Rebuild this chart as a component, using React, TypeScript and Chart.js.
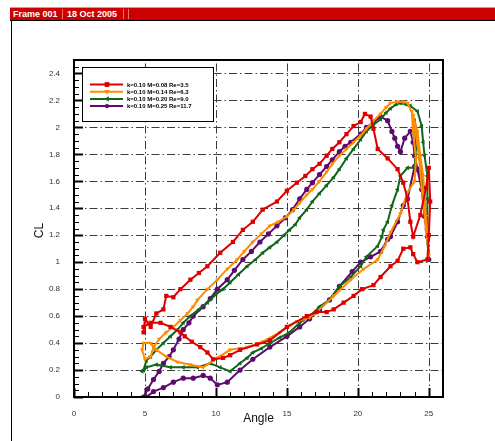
import React, { useEffect, useRef } from "react";
import { Chart, registerables } from "chart.js";

Chart.register(...registerables);

const seriesLabels = [
  "k=0.10 M=0.08 Re=3.5",
  "k=0.10 M=0.14 Re=6.3",
  "k=0.10 M=0.20 Re=9.0",
  "k=0.10 M=0.25 Re=11.7",
];

const xTicks = [0, 5, 10, 15, 20, 25];
const yTicks = [0, 0.2, 0.4, 0.6, 0.8, 1, 1.2, 1.4, 1.6, 1.8, 2, 2.2, 2.4];

const angleRed = [4.9, 5.0, 5.4, 5.8, 6.3, 6.5, 7.0, 7.5, 8.2, 8.8, 9.4, 10.3, 11.2, 11.9, 12.6, 13.3, 14.3, 15.0, 15.7, 16.3, 16.8, 17.3, 17.8, 18.2, 18.7, 19.2, 19.7, 20.2, 20.5, 20.9, 21.1, 21.4, 22.1, 22.8, 23.2, 23.5, 23.7, 23.9, 24.4, 24.8, 25.0, 25.1, 25.0, 24.9, 24.2, 23.9, 23.7, 23.2, 22.8, 22.3, 21.6, 21.1, 20.3, 19.7, 19.0, 18.3, 17.8, 17.1, 16.4, 15.0, 13.8, 12.9, 11.7, 11.0, 10.5, 9.8, 9.4, 8.9, 8.3, 7.8, 7.5, 6.8, 6.1, 5.4, 4.9];
const clRed = [0.48, 0.58, 0.52, 0.62, 0.65, 0.75, 0.74, 0.80, 0.87, 0.92, 0.97, 1.07, 1.15, 1.24, 1.30, 1.39, 1.45, 1.53, 1.59, 1.64, 1.69, 1.73, 1.79, 1.84, 1.89, 1.95, 2.01, 2.04, 2.10, 2.08, 1.99, 1.84, 1.77, 1.69, 1.59, 1.47, 1.30, 1.19, 1.35, 1.55, 1.70, 1.45, 1.20, 1.02, 1.00, 1.06, 1.11, 1.10, 1.01, 0.97, 0.89, 0.83, 0.80, 0.75, 0.70, 0.65, 0.63, 0.63, 0.60, 0.52, 0.42, 0.39, 0.35, 0.31, 0.29, 0.28, 0.33, 0.37, 0.41, 0.45, 0.48, 0.52, 0.55, 0.55, 0.52];

const angleOrange = [5.6, 6.0, 6.5, 7.0, 7.5, 8.0, 8.4, 8.7, 9.4, 10.1, 10.8, 11.5, 12.0, 12.6, 13.2, 13.8, 14.4, 15.0, 15.5, 15.9, 16.4, 16.8, 17.3, 17.8, 18.2, 18.7, 19.2, 19.7, 20.2, 20.6, 21.1, 21.6, 22.0, 22.3, 22.8, 23.2, 23.5, 23.9, 24.2, 24.4, 24.6, 24.7, 24.8, 24.9, 25.0, 24.8, 24.5, 24.3, 24.0, 23.8, 23.9, 24.1, 24.0, 23.5, 23.0, 22.3, 21.9, 21.4, 20.4, 19.5, 18.3, 17.1, 16.6, 15.7, 14.5, 13.3, 12.2, 11.0, 10.1, 9.1, 8.2, 7.3, 6.5, 5.8, 5.4, 4.9, 4.8, 5.0, 5.4, 5.6];
const clOrange = [0.37, 0.43, 0.48, 0.52, 0.57, 0.62, 0.67, 0.72, 0.80, 0.87, 0.95, 1.02, 1.08, 1.15, 1.21, 1.27, 1.30, 1.34, 1.39, 1.44, 1.50, 1.54, 1.60, 1.67, 1.73, 1.79, 1.84, 1.89, 1.94, 1.99, 2.05, 2.10, 2.15, 2.18, 2.19, 2.19, 2.18, 2.09, 1.97, 1.79, 1.64, 1.49, 1.34, 1.19, 1.05, 1.25, 1.55, 1.80, 2.00, 2.12, 1.95, 1.77, 1.60, 1.52, 1.36, 1.22, 1.12, 1.02, 0.95, 0.87, 0.75, 0.63, 0.59, 0.56, 0.48, 0.41, 0.37, 0.35, 0.29, 0.22, 0.24, 0.26, 0.30, 0.35, 0.40, 0.40, 0.35, 0.28, 0.30, 0.37];

const angleGreen = [4.9, 5.1, 5.4, 5.8, 6.3, 6.8, 7.3, 7.7, 8.2, 8.8, 9.4, 10.0, 10.5, 11.0, 11.6, 12.2, 12.8, 13.3, 13.8, 14.3, 14.8, 15.2, 15.6, 15.9, 16.4, 16.8, 17.3, 17.8, 18.3, 18.7, 19.2, 19.7, 20.2, 20.6, 21.1, 21.6, 22.0, 22.3, 22.7, 23.0, 23.4, 23.7, 24.2, 24.5, 24.6, 24.7, 24.9, 24.9, 24.9, 25.0, 24.8, 24.5, 24.2, 24.0, 24.1, 24.0, 23.5, 23.0, 22.8, 22.4, 22.1, 21.8, 21.7, 21.4, 20.6, 20.2, 19.5, 18.7, 18.0, 17.3, 16.6, 15.9, 15.2, 14.5, 13.8, 13.2, 12.6, 12.2, 11.7, 11.0, 10.3, 9.6, 8.7, 7.7, 6.8, 5.8, 5.1, 4.8, 4.9];
const clGreen = [0.20, 0.27, 0.30, 0.35, 0.40, 0.45, 0.50, 0.55, 0.60, 0.65, 0.70, 0.76, 0.80, 0.85, 0.91, 0.97, 1.02, 1.07, 1.11, 1.15, 1.20, 1.24, 1.28, 1.33, 1.39, 1.45, 1.51, 1.57, 1.63, 1.69, 1.77, 1.84, 1.91, 1.97, 2.02, 2.06, 2.11, 2.14, 2.17, 2.18, 2.17, 2.16, 2.12, 2.01, 1.89, 1.79, 1.64, 1.47, 1.24, 1.02, 1.30, 1.60, 1.92, 2.05, 1.85, 1.70, 1.70, 1.64, 1.54, 1.42, 1.30, 1.24, 1.19, 1.12, 1.04, 0.97, 0.89, 0.82, 0.72, 0.67, 0.60, 0.55, 0.48, 0.44, 0.40, 0.36, 0.33, 0.29, 0.25, 0.19, 0.22, 0.25, 0.22, 0.22, 0.22, 0.24, 0.22, 0.19, 0.20];

const anglePurple = [4.9, 5.2, 5.6, 6.0, 6.3, 6.7, 7.0, 7.4, 7.7, 8.1, 8.4, 9.1, 9.6, 10.1, 10.8, 11.3, 11.9, 12.5, 13.1, 13.7, 14.3, 14.9, 15.4, 15.9, 16.4, 16.8, 17.3, 17.8, 18.2, 18.7, 19.1, 19.5, 20.2, 20.6, 21.1, 21.6, 22.1, 22.4, 22.6, 22.8, 23.0, 23.3, 23.7, 23.9, 24.0, 24.2, 24.5, 24.7, 24.9, 25.0, 24.9, 24.6, 24.3, 24.0, 23.5, 23.2, 22.8, 22.3, 22.1, 21.6, 20.9, 20.2, 19.6, 18.7, 18.0, 17.3, 16.6, 15.9, 15.0, 13.8, 12.6, 11.7, 10.8, 10.1, 9.6, 9.1, 8.4, 7.7, 7.0, 6.3, 5.6, 5.1];
const clPurple = [0.0, 0.06, 0.13, 0.19, 0.25, 0.30, 0.35, 0.43, 0.50, 0.55, 0.60, 0.67, 0.73, 0.80, 0.87, 0.94, 1.02, 1.08, 1.15, 1.21, 1.27, 1.33, 1.39, 1.47, 1.54, 1.59, 1.65, 1.71, 1.76, 1.82, 1.86, 1.89, 1.95, 2.00, 2.04, 2.08, 2.05, 1.97, 1.92, 1.86, 1.82, 1.92, 1.97, 1.89, 1.79, 1.69, 1.54, 1.34, 1.19, 1.02, 1.24, 1.55, 1.68, 1.71, 1.47, 1.42, 1.30, 1.19, 1.17, 1.08, 1.04, 1.00, 0.93, 0.82, 0.72, 0.65, 0.58, 0.52, 0.45, 0.37, 0.28, 0.20, 0.11, 0.09, 0.14, 0.16, 0.14, 0.14, 0.11, 0.07, 0.04, 0.0];

const seriesColors = ["#dd0000", "#ff8c00", "#10661a", "#5e0b6e"];
const seriesStyles = ["rect", "triangle", "triangle", "circle"];
const seriesRotation = [0, 180, -90, 0];
const seriesRadius = [3, 2.6, 2.7, 2.6];

const FONT = 'Arial, "Liberation Sans", Helvetica, sans-serif';

function toPoints(xs: number[], ys: number[]) {
  return xs.map((x, i) => ({ x, y: ys[i] }));
}

function drawMarker(ctx: CanvasRenderingContext2D, style: string, rot: number, x: number, y: number, r: number) {
  ctx.save();
  ctx.translate(x, y);
  ctx.rotate((rot * Math.PI) / 180);
  ctx.beginPath();
  if (style === "rect") {
    ctx.rect(-r * 0.8, -r * 0.8, 1.6 * r, 1.6 * r);
  } else if (style === "triangle") {
    ctx.moveTo(0, -r * 1.1);
    ctx.lineTo(r, r * 0.7);
    ctx.lineTo(-r, r * 0.7);
    ctx.closePath();
  } else {
    ctx.arc(0, 0, r * 0.85, 0, Math.PI * 2);
  }
  ctx.fill();
  ctx.restore();
}

const framePlugin = {
  id: "tecframe",
  beforeDatasetsDraw(chart: any) {
    const { ctx, chartArea: a, scales } = chart;
    const xs = scales.x;
    const ys = scales.y;
    ctx.save();
    ctx.strokeStyle = "#3c3c3c";
    ctx.lineWidth = 1;
    ctx.setLineDash([8, 3, 1.5, 3]);
    xTicks.forEach((v) => {
      if (v === 0) return;
      const px = Math.round(xs.getPixelForValue(v)) + 0.5;
      ctx.beginPath();
      ctx.moveTo(px, a.bottom);
      ctx.lineTo(px, a.top);
      ctx.stroke();
    });
    yTicks.forEach((v) => {
      if (v === 0) return;
      const py = Math.round(ys.getPixelForValue(v)) + 0.5;
      ctx.beginPath();
      ctx.moveTo(a.left, py);
      ctx.lineTo(a.right, py);
      ctx.stroke();
    });
    ctx.setLineDash([]);
    ctx.strokeStyle = "#000";
    for (let v = 0; v <= 26; v += 1) {
      const major = v % 5 === 0;
      const px = Math.round(xs.getPixelForValue(v)) + 0.5;
      ctx.lineWidth = major ? 2 : 1;
      ctx.beginPath();
      ctx.moveTo(px, a.bottom);
      ctx.lineTo(px, a.bottom - (major ? 9 : 5));
      ctx.stroke();
    }
    for (let i = 0; i <= 50; i++) {
      const v = i * 0.05;
      const major = i % 4 === 0;
      const py = Math.round(ys.getPixelForValue(v)) + 0.5;
      ctx.lineWidth = major ? 2 : 1;
      ctx.beginPath();
      ctx.moveTo(a.left, py);
      ctx.lineTo(a.left + (major ? 9 : 5), py);
      ctx.stroke();
    }
    ctx.restore();
  },
  afterDraw(chart: any) {
    const { ctx, chartArea: a } = chart;
    ctx.save();
    ctx.strokeStyle = "#000";
    ctx.lineWidth = 2;
    ctx.strokeRect(a.left, a.top, a.right - a.left, a.bottom - a.top);
    ctx.fillStyle = "#111";
    ctx.font = `12px ${FONT}`;
    ctx.textAlign = "center";
    ctx.textBaseline = "middle";
    ctx.fillText("Angle", (a.left + a.right) / 2, a.bottom + 22);
    ctx.save();
    ctx.translate(a.left - 34, (a.top + a.bottom) / 2 + 2);
    ctx.rotate(-Math.PI / 2);
    ctx.fillText("CL", 0, 0);
    ctx.restore();
    const bx = a.left + 8;
    const by = a.top + 7;
    const bw = 131;
    const bh = 54;
    ctx.fillStyle = "#fff";
    ctx.fillRect(bx, by, bw, bh);
    ctx.strokeStyle = "#000";
    ctx.lineWidth = 1;
    ctx.strokeRect(bx + 0.5, by + 0.5, bw, bh);
    ctx.font = `bold 6px ${FONT}`;
    ctx.textAlign = "left";
    ctx.textBaseline = "middle";
    seriesLabels.forEach((lab, i) => {
      const y = by + 17.5 + i * 7.2;
      ctx.strokeStyle = seriesColors[i];
      ctx.fillStyle = seriesColors[i];
      ctx.lineWidth = 2;
      ctx.beginPath();
      ctx.moveTo(bx + 8, y);
      ctx.lineTo(bx + 41, y);
      ctx.stroke();
      drawMarker(ctx, seriesStyles[i], seriesRotation[i], bx + 25, y, seriesRadius[i]);
      ctx.fillStyle = "#000";
      ctx.fillText(lab, bx + 45, y + 0.5);
    });
    ctx.restore();
  },
};

export default function App() {
  const ref = useRef<HTMLCanvasElement | null>(null);

  useEffect(() => {
    if (!ref.current) return;
    const sets = [
      toPoints(angleRed, clRed),
      toPoints(angleOrange, clOrange),
      toPoints(angleGreen, clGreen),
      toPoints(anglePurple, clPurple),
    ];
    const chart = new Chart(ref.current, {
      type: "scatter",
      data: {
        datasets: sets.map((d, i) => ({
          label: seriesLabels[i],
          data: d,
          showLine: true,
          borderColor: seriesColors[i],
          backgroundColor: seriesColors[i],
          borderWidth: 2,
          pointStyle: seriesStyles[i] as any,
          rotation: seriesRotation[i],
          pointRadius: seriesRadius[i],
          pointBorderWidth: 0,
          tension: 0,
        })),
      },
      options: {
        responsive: false,
        animation: false,
        devicePixelRatio: 1,
        layout: { padding: { left: 0, right: 52, top: 60, bottom: 0 } },
        plugins: {
          legend: { display: false },
          tooltip: { enabled: false },
          title: { display: false },
        },
        scales: {
          x: {
            type: "linear",
            min: 0,
            max: 26,
            grid: { display: false },
            border: { display: false },
            ticks: {
              stepSize: 5,
              includeBounds: false,
              maxRotation: 0,
              padding: 4,
              color: "#333",
              font: { family: FONT, size: 8 },
              callback: (v: any) => String(v),
            },
            afterFit: (s: any) => {
              s.height = 44;
            },
          },
          y: {
            type: "linear",
            min: 0,
            max: 2.5,
            grid: { display: false },
            border: { display: false },
            ticks: {
              stepSize: 0.2,
              includeBounds: false,
              padding: 6,
              color: "#333",
              font: { family: FONT, size: 8 },
              callback: (v: any) => String(Math.round(Number(v) * 10) / 10),
            },
            afterFit: (s: any) => {
              s.width = 74;
            },
          },
        },
      },
      plugins: [framePlugin],
    } as any);
    return () => chart.destroy();
  }, []);

  const sep = (left: number) => (
    <div style={{ position: "absolute", left, top: 1, width: 1, height: 10, background: "#f07070" }} />
  );

  return (
    <div style={{ position: "fixed", left: 0, top: 0, width: 495, height: 441, background: "#fff", overflow: "hidden" }}>
      <canvas ref={ref} width={495} height={441} style={{ position: "absolute", left: 0, top: 0, width: 495, height: 441 }} />
      <div style={{ position: "absolute", left: 11, top: 20, width: 1, height: 421, background: "#000" }} />
      <div
        style={{
          position: "absolute",
          left: 10,
          top: 7,
          width: 485,
          height: 12,
          background: "#cc0000",
          borderTop: "1px solid #a8a8a8",
          borderBottom: "1px solid #000",
          fontFamily: FONT,
          fontWeight: "bold",
          fontSize: 9,
          color: "#fff",
          lineHeight: "12px",
        }}
      >
        <span style={{ position: "absolute", left: 3, top: 0 }}>Frame 001</span>
        {sep(52)}
        <span style={{ position: "absolute", left: 57, top: 0 }}>18 Oct 2005</span>
        {sep(113)}
        {sep(118)}
      </div>
    </div>
  );
}
